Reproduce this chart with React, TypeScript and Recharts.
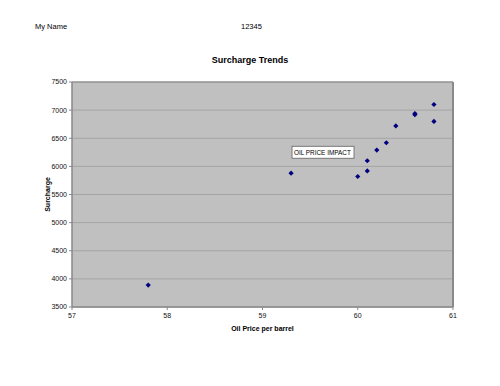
import {
  CartesianGrid,
  Label,
  ReferenceArea,
  ReferenceDot,
  ReferenceLine,
  Scatter,
  ScatterChart,
  XAxis,
  YAxis,
} from 'recharts';

const oilPrice = [57.8, 59.3, 60.0, 60.1, 60.1, 60.2, 60.3, 60.4, 60.6, 60.6, 60.8, 60.8];
const surcharge = [3890, 5880, 5820, 5920, 6100, 6290, 6420, 6720, 6940, 6920, 7100, 6800];
const xTicks = [57, 58, 59, 60, 61];
const yTicks = [3500, 4000, 4500, 5000, 5500, 6000, 6500, 7000, 7500];

const data = oilPrice.map((x, i) => ({ x, y: surcharge[i] }));

const font = '"Liberation Sans", Arial, sans-serif';
const tickStyle = { fontSize: 7, fill: '#111', fontFamily: font };

// small navy diamond marker, like the spreadsheet default
function Diamond({ cx, cy }: any) {
  const r = 2.6;
  return <polygon points={`${cx},${cy - r} ${cx + r},${cy} ${cx},${cy + r} ${cx - r},${cy}`} fill="#000080" />;
}

function NoteBox({ viewBox }: any) {
  const x = viewBox?.cx ?? viewBox?.x ?? 0;
  const y = viewBox?.cy ?? viewBox?.y ?? 0;
  return (
    <g>
      <rect x={x} y={y - 6} width={62} height={12} fill="#fff" stroke="#777" strokeWidth={1} />
      <text x={x + 2} y={y + 2.5} fontSize={6.4} fontFamily={font} fill="#000">
        OIL PRICE IMPACT
      </text>
    </g>
  );
}

export default function App() {
  return (
    <div style={{ position: 'absolute', left: 0, top: 0, width: 500, height: 386, background: '#fff', fontFamily: font }}>
      <div style={{ position: 'absolute', left: 35, top: 22, fontSize: 7.5, color: '#000' }}>My Name</div>
      <div style={{ position: 'absolute', left: 241, top: 22, fontSize: 7.5, color: '#000' }}>12345</div>
      <div style={{ position: 'absolute', left: 0, width: 500, top: 55, textAlign: 'center', fontSize: 9, fontWeight: 'bold' }}>
        Surcharge Trends
      </div>
      <ScatterChart width={500} height={386} margin={{ top: 82, right: 47, bottom: 55, left: 32 }}>
        <CartesianGrid vertical={false} fill="#c0c0c0" stroke="#a4a4a4" horizontalValues={yTicks} />
        <ReferenceArea x1={57} x2={61} y1={3500} y2={7500} fill="none" stroke="#888" strokeWidth={1} ifOverflow="visible" />
        {/* darker shadow edge on the right of the plot area */}
        <ReferenceLine x={61} stroke="#8a8a8a" strokeWidth={2} ifOverflow="visible" />
        <XAxis
          type="number"
          dataKey="x"
          domain={[57, 61]}
          ticks={xTicks}
          height={24}
          tick={tickStyle}
          tickSize={3}
          tickMargin={3}
          stroke="#888"
        >
          <Label
            value="Oil Price per barrel"
            position="insideBottom"
            offset={0}
            style={{ fontSize: 7, fontWeight: 'bold', fill: '#000', fontFamily: font }}
          />
        </XAxis>
        <YAxis
          type="number"
          dataKey="y"
          domain={[3500, 7500]}
          ticks={yTicks}
          width={40}
          tick={tickStyle}
          tickSize={3}
          tickMargin={2}
          stroke="#888"
        >
          <Label
            value="Surcharge"
            angle={-90}
            position="center"
            dx={-4}
            style={{ fontSize: 7, fontWeight: 'bold', fill: '#000', fontFamily: font }}
          />
        </YAxis>
        <Scatter data={data} fill="#000080" shape={<Diamond />} isAnimationActive={false} />
        <ReferenceDot x={59.31} y={6250} r={0} label={<NoteBox />} ifOverflow="visible" />
      </ScatterChart>
    </div>
  );
}
